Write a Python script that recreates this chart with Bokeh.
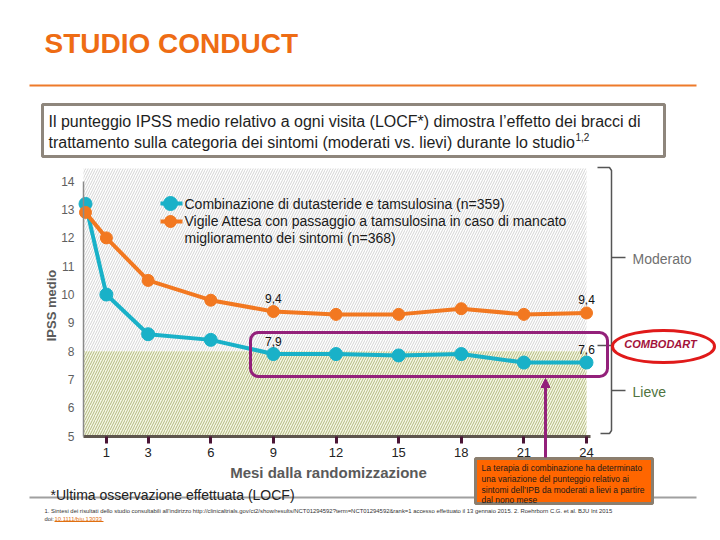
import math
from bokeh.plotting import figure
from bokeh.models import Range1d, FixedTicker, BoxAnnotation, Arrow, NormalHead
from bokeh.core.properties import value
from bokeh.embed import file_html
from bokeh.resources import INLINE

# ---------------- data ----------------
months = [0, 1, 3, 6, 9, 12, 15, 18, 21, 24]
combo = [13.2, 10.0, 8.6, 8.4, 7.9, 7.9, 7.85, 7.9, 7.6, 7.6]
vigile = [12.9, 12.0, 10.5, 9.8, 9.4, 9.3, 9.3, 9.5, 9.3, 9.35]
tick_months = [1, 3, 6, 9, 12, 15, 18, 21, 24]
y_ticks = [5, 6, 7, 8, 9, 10, 11, 12, 13, 14]
label_months = [9, 24, 9, 24]
label_values = [9.4, 9.35, 7.9, 7.6]
label_texts = ["9,4", "9,4", "7,9", "7,6"]
mild_threshold = 8
legend_combo = ["Combinazione di dutasteride e tamsulosina (n=359)"]
legend_vigile = ["Vigile Attesa con passaggio a tamsulosina in caso di mancato",
                 "miglioramento dei sintomi (n=368)"]
title_text = "STUDIO CONDUCT"
box_lines = ["Il punteggio IPSS medio relativo a ogni visita (LOCF*) dimostra l\u2019effetto dei bracci di",
             "trattamento sulla categoria dei sintomi (moderati vs. lievi) durante lo studio"]
note_lines = ["La terapia di combinazione ha determinato",
              "una variazione del punteggio relativo ai",
              "sintomi dell\u2019IPB da moderati a lievi a partire",
              "dal nono mese"]
foot1 = ("1. Sintesi dei risultati dello studio consultabili all\u2019indirizzo http://clinicaltrials.gov/ct2/show/results/"
         "NCT01294592?term=NCT01294592&rank=1 accesso effettuato il 13 gennaio 2015. 2. Roehrborn C.G. et al. BJU Int 2015")
foot2_link = "10.1111/bju.13033"

# ---------------- layout ----------------
W, H = 720, 540
OFF = 0                     # page offset of the canvas
X0, XPM = 85.0, 20.875      # page px of month 0, px per month
Y5, YPU = 435.7, 28.33      # page px of value 5, px per unit

def dx(X):
    return (X - X0) / XPM

def dy(Y):
    return 5 + (Y5 - Y) / YPU

FONT = value("Liberation Sans")
TEAL = "#19B1C8"
ORANGE = "#F27820"
MAG = "#93207A"

p = figure(width=W, height=H, x_range=Range1d(dx(OFF), dx(OFF + W)),
           y_range=Range1d(dy(OFF + H), dy(OFF)),
           output_backend="svg", toolbar_location=None, min_border=0,
           outline_line_color=None, background_fill_color="white",
           border_fill_color="white")
p.extra_x_ranges = {"px": Range1d(OFF, OFF + W)}
p.extra_y_ranges = {"px": Range1d(OFF + H, OFF)}
PX = dict(x_range_name="px", y_range_name="px")
p.grid.visible = False

# axes
p.xaxis.fixed_location = 5
p.xaxis.ticker = FixedTicker(ticks=tick_months)
p.xaxis.bounds = (dx(83), dx(590))
p.xaxis.axis_line_color = "#5E564E"
p.xaxis.axis_line_width = 3
p.xaxis.major_tick_line_color = "#4A1535"
p.xaxis.major_tick_line_width = 3
p.xaxis.major_tick_out = 7
p.xaxis.major_tick_in = 0
p.xaxis.minor_tick_line_color = None
p.xaxis.major_label_text_font = "Liberation Sans"
p.xaxis.major_label_text_font_size = "13px"
p.xaxis.major_label_text_color = "#222222"
p.xaxis.major_label_standoff = 5

p.yaxis.fixed_location = dx(83)
p.yaxis.ticker = FixedTicker(ticks=y_ticks)
p.yaxis.bounds = (5, 14)
p.yaxis.axis_line_color = "#8A8A8A"
p.yaxis.axis_line_width = 1.5
p.yaxis.major_tick_line_color = None
p.yaxis.major_tick_out = 0
p.yaxis.major_tick_in = 0
p.yaxis.minor_tick_line_color = None
p.yaxis.minor_tick_out = 0
p.yaxis.major_label_text_font = "Liberation Sans"
p.yaxis.major_label_text_font_size = "12px"
p.yaxis.major_label_text_color = "#5F5F5F"
p.yaxis.major_label_standoff = 9

# background hatched zones
p.quad(left=[dx(83)], right=[24], bottom=[mild_threshold], top=[dy(168)],
       fill_color="white", line_color=None, hatch_pattern="/",
       hatch_color="#C8C8C8", hatch_scale=5, hatch_weight=0.8, level="underlay")
p.quad(left=[dx(83)], right=[24], bottom=[5], top=[mild_threshold],
       fill_color="#F6F7E6", line_color=None, hatch_pattern="/",
       hatch_color="#A9B270", hatch_scale=5, hatch_weight=0.9, level="underlay")

# title + rules
p.text(x=[44], y=[43], text=[title_text], text_font=FONT, text_font_style="bold",
       text_font_size="28px", text_color="#EE6C14", text_baseline="alphabetic", **PX)
p.line(x=[29, 696], y=[85, 85], line_color="#EE7A2A", line_width=2, **PX)

# statement box
p.quad(left=[42], right=[664], top=[104], bottom=[156], fill_color="white",
       line_color="#8E867C", line_width=3, **PX)
p.text(x=[48, 48], y=[121, 142], text=box_lines, text_font=FONT, text_font_size="16px",
       text_color="#1E1E1E", text_baseline="middle", **PX)
p.text(x=[575], y=[136], text=["1,2"], text_font=FONT, text_font_size="10px",
       text_color="#1E1E1E", text_baseline="middle", **PX)

# series
p.line(months, combo, line_color=TEAL, line_width=4)
p.scatter(months, combo, size=13, fill_color=TEAL, line_color=TEAL)
p.line(months, vigile, line_color=ORANGE, line_width=4)
p.scatter(months, vigile, size=12, fill_color=ORANGE, line_color=ORANGE)

p.text(x=label_months, y=label_values, text=label_texts, y_offset=-13,
       text_align="center", text_baseline="middle", text_font=FONT,
       text_font_size="12px", text_color="#111111")

# legend (manual)
p.line(x=[160, 182], y=[203, 203], line_color=TEAL, line_width=4, **PX)
p.scatter(x=[170], y=[203], size=14, fill_color=TEAL, line_color=TEAL, **PX)
p.line(x=[160, 182], y=[221, 221], line_color=ORANGE, line_width=4, **PX)
p.scatter(x=[170], y=[221], size=12, fill_color=ORANGE, line_color=ORANGE, **PX)
p.text(x=[184, 184, 184], y=[203, 220, 237], text=legend_combo + legend_vigile,
       text_font=FONT, text_font_size="14px", text_color="#1A1A1A",
       text_baseline="middle", **PX)

# highlight box
p.add_layout(BoxAnnotation(left=250, right=607, top=332, bottom=376,
                           fill_alpha=0, line_color=MAG, line_alpha=1, line_width=3,
                           border_radius=8, **PX))

# bracket
p.multi_line(xs=[[597, 609, 611, 611, 609, 600], [611, 625], [611, 625], [597, 611]],
             ys=[[167, 167, 170, 430, 433, 433], [257, 257], [390, 390], [345, 345]],
             line_color="#555555", line_width=1.5, **PX)
p.text(x=[632], y=[258], text=["Moderato"], text_font=FONT, text_font_size="14px",
       text_color="#707070", text_baseline="middle", **PX)
p.text(x=[632], y=[391], text=["Lieve"], text_font=FONT, text_font_size="14px",
       text_color="#4F7340", text_baseline="middle", **PX)

# logo
p.ellipse(x=[663], y=[346], width=[102], height=[32], fill_color="white",
          line_color="#E01A1A", line_width=3, **PX)
p.text(x=[660], y=[343], text=["COMBODART"], text_font=FONT, text_font_style="bold italic",
       text_font_size="11px", text_color="#A3123A", text_align="center",
       text_baseline="middle", **PX)

# axis titles
p.text(x=[dx(51)], y=[dy(305)], text=["IPSS medio"], angle=math.pi / 2,
       text_font=FONT, text_font_style="bold", text_font_size="13px",
       text_color="#5A5A5A", text_align="center", text_baseline="middle")
p.text(x=[328], y=[472], text=["Mesi dalla randomizzazione"], text_font=FONT,
       text_font_style="bold", text_font_size="15px", text_color="#5A5A5A",
       text_align="center", text_baseline="middle", **PX)

# bottom rule, note, callout
p.line(x=[29, 696], y=[497, 497], line_color="#A0A0A0", line_width=2, **PX)
p.text(x=[50], y=[494], text=["*Ultima osservazione effettuata (LOCF)"], text_font=FONT,
       text_font_size="14px", text_color="#222222", text_baseline="middle", **PX)
p.quad(left=[475], right=[652], top=[458], bottom=[503], fill_color="#FF6600",
       line_color="#8B7E6E", line_width=3, **PX)
p.text(x=[481] * 4, y=[467, 478, 489, 499], text=note_lines, text_font=FONT,
       text_font_size="8.5px", text_color="#1A1A1A", text_baseline="middle", **PX)
p.add_layout(Arrow(end=NormalHead(size=9, fill_color=MAG, line_color=MAG),
                   x_start=545, y_start=457, x_end=545, y_end=378,
                   line_color=MAG, line_width=3, **PX))

# footnotes
p.text(x=[44], y=[510], text=[foot1], text_font=FONT, text_font_size="5.9px",
       text_color="#333333", text_baseline="middle", **PX)
p.text(x=[44], y=[518], text=["doi:"], text_font=FONT, text_font_size="5.9px",
       text_color="#333333", text_baseline="middle", **PX)
p.text(x=[54], y=[518], text=[foot2_link], text_font=FONT, text_font_size="5.9px",
       text_color="#E07010", text_baseline="middle", **PX)
p.line(x=[54, 103], y=[521, 521], line_color="#E07010", line_width=1, **PX)

open("out.html", "w").write(file_html(p, INLINE))
